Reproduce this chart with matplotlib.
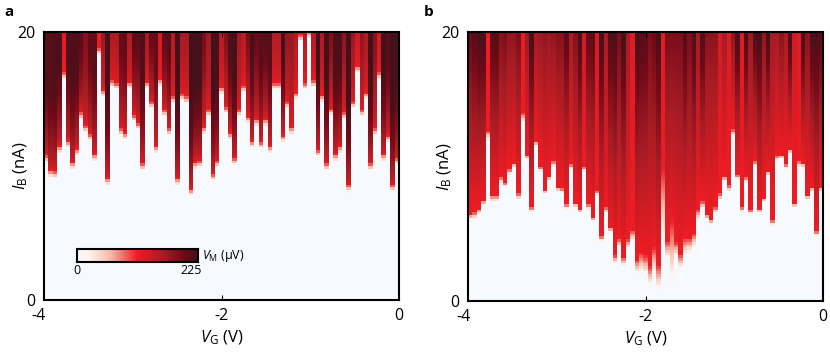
import numpy as np
import matplotlib
matplotlib.use('Agg')
from matplotlib import pyplot as plt
from matplotlib.colors import LinearSegmentedColormap
from matplotlib.transforms import ScaledTranslation

plt.rcParams['font.family'] = ['Open Sans', 'DejaVu Sans']
plt.rcParams['mathtext.fontset'] = 'custom'
plt.rcParams['mathtext.rm'] = 'Open Sans'
plt.rcParams['mathtext.it'] = 'Open Sans:italic'
plt.rcParams['font.size'] = 11.5

# switching current (nA)
switch_a = [10.2, 9.1, 9.0, 10.9, 16.4, 11.3, 9.7, 10.7, 13.4, 12.4, 11.8, 10.3, 18.2, 15.1, 8.5, 15.8, 15.6,
            12.2, 11.9, 15.7, 13.2, 12.6, 9.6, 15.7, 14.2, 10.9, 15.9, 13.6, 12.2, 14.6, 8.5, 14.8, 14.6, 7.7,
            9.7, 9.8, 12.3, 13.6, 8.8, 9.8, 15.3, 13.8, 11.9, 10.0, 13.6, 15.4, 13.1, 11.3, 12.9, 11.2, 12.9,
            10.9, 15.6, 15.6, 11.7, 14.2, 12.3, 14.9, 19.2, 15.6, 19.5, 15.8, 10.6, 14.7, 9.6, 13.7, 10.3,
            10.9, 13.4, 8.0, 14.2, 16.9, 13.6, 14.9, 9.6, 12.2, 16.4, 10.3, 11.7, 8.0, 10.0]
switch_b = [6.0, 6.1, 6.4, 7.0, 11.9, 7.3, 7.3, 8.8, 8.4, 9.4, 9.9, 7.5, 13.2, 10.4, 6.6, 11.4, 9.6, 7.9, 8.9,
            10.0, 8.1, 8.0, 6.8, 9.8, 6.9, 6.5, 9.6, 6.8, 5.8, 7.8, 4.4, 6.5, 5.0, 2.7, 4.0, 2.5, 3.8, 4.3, 1.9,
            2.0, 1.8, 1.0, 1.8, 0.7, 3.8, 3.0, 1.0, 3.2, 2.3, 3.3, 3.5, 4.0, 6.0, 6.8, 6.0, 5.6, 6.5, 7.4, 8.8,
            8.1, 12.2, 9.0, 6.6, 8.8, 6.4, 10.0, 6.5, 7.3, 9.3, 5.6, 10.4, 10.5, 9.8, 10.9, 6.9, 10.0, 9.9, 7.5,
            8.1, 4.8, 8.1]

# colour level at the top of each column (fraction of 225 uV)
top_a = [.95, .95, .97, .97, .55, .97, .97, .97, .97, .82, .92, .93, .55, .8, .98, .75, .75, .9, .92, .75, .95,
         .92, .97, .78, .95, .9, .6, .95, .95, .7, 1, .75, .75, 1, 1, 1, .85, .75, 1, 1, .7, .85, .97, 1, .75,
         .7, .85, .98, .9, .95, .95, .95, .72, .72, 1, .8, .75, .72, .6, .72, .45, .72, 1, .72, 1, .85, .97, .97,
         .8, 1, .78, .65, .8, .72, 1, .8, .65, 1, .95, 1, 1]
top_b = [.9, .95, 1, 1, .5, .95, .97, .82, .85, .78, .78, .85, .52, .75, 1, .72, .75, .78, .75, .78, .82, .82,
         .95, .72, .82, 1, .6, .92, .95, .58, 1, .7, .98, 1, .85, 1, .72, .55, 1, .97, .95, .85, .9, 1, .55, .85,
         .85, .85, .85, .97, .85, .98, .72, .98, .8, .8, .8, .58, .72, .55, .78, 1, .55, 1, .75, .97, 1, .78, 1,
         .72, .7, .8, .7, 1, .6, .55, 1, .8, 1, 1, .95]

# width (nA) of the pale edge above the switching current in panel b
onset_b = [.5, .5, .5, .5, .8, .6, .6, .4, .4, .4, .4, .5, .8, .5, .4, .5, .4, .4, .4, .4, .4, .4, .4, .4, .4, .4,
           .4, .4, .5, .4, .4, .5, .5, .7, .6, .8, .8, 1.0, 1.2, 1.6, 1.6, 1.6, 2.2, 2.0, 6.0, 1.5, 5.0, 1.2, 1.2,
           1.4, 1.2, 1.0, .8, .6, .5, .5, .5, .6, .5, .5, .6, .4, .4, .4, .4, .4, .4, .4, .4, .4, .4, .4, .4, .4,
           .4, .4, .4, .4, .4, .4, .4]

v_edges = np.linspace(-4, 0, 82)
i_edges = np.linspace(0, 20, 101)
i_mid = (i_edges[:-1] + i_edges[1:]) / 2

cmap = LinearSegmentedColormap.from_list('vm', [(0, '#f6f9fd'), (0.1, '#fff4f0'), (0.28, '#f8b7a6'),
                                                (0.5, '#ed1c24'), (0.72, '#a51c24'), (0.88, '#700a18'),
                                                (1, '#45101a')])


def build_map(switch, top, onset, rise, power):
    z = np.zeros((len(i_mid), len(switch)))
    for col in range(len(switch)):
        above = i_mid - switch[col]
        edge = np.clip(above / onset[col], 0, 1) * 0.5
        span = rise if rise else 20 - switch[col] - onset[col]
        body = np.clip((above - onset[col]) / max(span, 0.1), 0, 1) ** power * (top[col] - 0.5)
        z[:, col] = np.where(above > 0, edge + np.where(above > onset[col], body, 0), 0)
    return z


def style_axes(ax, height):
    ax.set_xlim(-4, 0)
    ax.set_ylim(0, 20)
    ax.set_xticks([-4, -2, 0], ['-4', '-2', '0'])
    ax.set_yticks([0, 20], ['0', '20'])
    ax.tick_params(axis='x', direction='in', length=3.5, width=0.8, top=True, pad=6)
    ax.tick_params(axis='y', length=0, pad=6)
    # the outer x ticks carry only a label
    for k in (0, 2):
        ax.xaxis.get_major_ticks()[k].tick1line.set_visible(False)
        ax.xaxis.get_major_ticks()[k].tick2line.set_visible(False)
    first = ax.get_xticklabels()[0]
    first.set_transform(first.get_transform() + ScaledTranslation(-5 / 100, 0, fig.dpi_scale_trans))
    for spine in ax.spines.values():
        spine.set_linewidth(1.5)
    ax.set_xlabel(r'$\mathit{V}_{\mathrm{G}}$ (V)', fontsize=12)
    ax.set_ylabel(r'$\mathit{I}_{\mathrm{B}}$ (nA)', fontsize=12)
    ax.xaxis.set_label_coords(0.5, -29 / height)
    ax.yaxis.set_label_coords(-14 / 355, 0.5)


W, H = 830, 358
fig = plt.figure(figsize=(W / 100, H / 100), dpi=100)
ax_a = fig.add_axes([44 / W, 1 - 300 / H, 355 / W, 268 / H])
ax_b = fig.add_axes([468 / W, 1 - 301 / H, 355 / W, 269 / H])

ax_a.pcolormesh(v_edges, i_edges, build_map(switch_a, top_a, [0.6] * 81, 6, 0.5), cmap=cmap, vmin=0, vmax=1)
ax_b.pcolormesh(v_edges, i_edges, build_map(switch_b, top_b, onset_b, None, 1), cmap=cmap, vmin=0, vmax=1)
style_axes(ax_a, 268)
style_axes(ax_b, 269)

fig.text(4 / W, 1 - 12 / H, 'a', fontweight='bold', fontsize=11, va='center')
fig.text(424 / W, 1 - 12 / H, 'b', fontweight='bold', fontsize=11, va='center')

# colour scale inset
cax = fig.add_axes([77 / W, 1 - 262 / H, 121 / W, 13 / H])
cax.imshow(np.linspace(0, 1, 256)[None, :], cmap=cmap, vmin=0, vmax=1, aspect='auto', extent=[0, 225, 0, 1])
cax.set_xticks([])
cax.set_yticks([])
for spine in cax.spines.values():
    spine.set_linewidth(1.5)
fig.text(77 / W, 1 - 270 / H, '0', ha='center', va='center', fontsize=9)
fig.text(191 / W, 1 - 270 / H, '225', ha='center', va='center', fontsize=9)
fig.text(202 / W, 1 - 256 / H, r'$\mathit{V}_{\mathrm{M}}$ (µV)', ha='left', va='center', fontsize=9)

fig.savefig('out.png', dpi=100)
